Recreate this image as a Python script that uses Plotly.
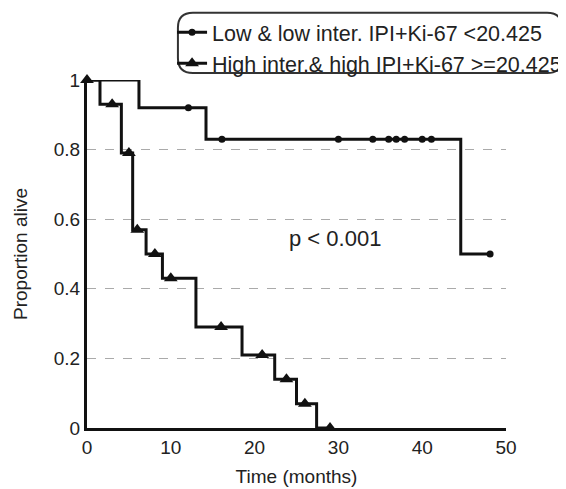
import plotly.graph_objects as go

# Low & low intermediate group: step points (time, survival) and censor marks
low_step_t = [0, 6.2, 14.2, 44.6, 48.1]
low_step_s = [1.0, 0.92, 0.83, 0.50, 0.50]
low_cens_t = [12.1, 16.1, 30.0, 34.1, 36.0, 36.9, 37.9, 40.0, 41.1, 48.1]
low_cens_s = [0.92, 0.83, 0.83, 0.83, 0.83, 0.83, 0.83, 0.83, 0.83, 0.50]

# High intermediate & high group
high_step_t = [0, 1.55, 4.1, 5.45, 7.05, 9.0, 13.0, 18.5, 22.4, 25.0, 27.4, 29.0]
high_step_s = [1.0, 0.93, 0.79, 0.57, 0.50, 0.43, 0.29, 0.21, 0.14, 0.07, 0.0, 0.0]
high_cens_t = [0.0, 3.0, 5.0, 6.0, 8.1, 10.0, 16.0, 20.9, 23.8, 26.0, 29.0]
high_cens_s = [1.0, 0.93, 0.79, 0.57, 0.50, 0.43, 0.29, 0.21, 0.14, 0.07, 0.0]

legend_names = ["Low &amp; low inter. IPI+Ki-67 &lt;20.425",
                "High inter.&amp; high IPI+Ki-67 &gt;=20.425"]
y_ticks = [0, 0.2, 0.4, 0.6, 0.8, 1.0]
y_tick_labels = ["0", "0.2", "0.4", "0.6", "0.8", "1"]
x_ticks = [0, 10, 20, 30, 40, 50]

FONT = "Liberation Sans, Arial, sans-serif"
INK = "#111"

fig = go.Figure()
fig.add_trace(go.Scatter(x=low_step_t, y=low_step_s, mode="lines", line_shape="hv",
                         line=dict(color=INK, width=3), showlegend=False, cliponaxis=False))
fig.add_trace(go.Scatter(x=low_cens_t, y=low_cens_s, mode="markers",
                         marker=dict(symbol="circle", size=7, color=INK), showlegend=False, cliponaxis=False))
fig.add_trace(go.Scatter(x=high_step_t, y=high_step_s, mode="lines", line_shape="hv",
                         line=dict(color=INK, width=3), showlegend=False, cliponaxis=False))
fig.add_trace(go.Scatter(x=high_cens_t, y=high_cens_s, mode="markers",
                         marker=dict(symbol="triangle-up", size=12, color=INK), showlegend=False, cliponaxis=False))
# legend entries
fig.add_trace(go.Scatter(x=[None], y=[None], mode="lines+markers", name=legend_names[0],
                         line=dict(color=INK, width=3), marker=dict(symbol="circle", size=7, color=INK)))
fig.add_trace(go.Scatter(x=[None], y=[None], mode="lines+markers", name=legend_names[1],
                         line=dict(color=INK, width=3), marker=dict(symbol="triangle-up", size=12, color=INK)))

# rounded legend box (paper coords; plot area 419 x 348 px)
x0, x1, y0, y1 = 0.217, 1.134, 1.020, 1.193
rx, ry = 15 / 419, 15 / 348
path = (f"M {x0+rx},{y1} L {x1-rx},{y1} Q {x1},{y1} {x1},{y1-ry} "
        f"L {x1},{y0+ry} Q {x1},{y0} {x1-rx},{y0} L {x0+rx},{y0} "
        f"Q {x0},{y0} {x0},{y0+ry} L {x0},{y1-ry} Q {x0},{y1} {x0+rx},{y1} Z")
fig.add_shape(type="path", path=path, xref="paper", yref="paper",
              line=dict(color="#333", width=2), fillcolor="rgba(0,0,0,0)")

fig.add_annotation(x=29.6, y=0.545, text="p &lt; 0.001", showarrow=False,
                   font=dict(family=FONT, size=22, color="#222"))

fig.update_layout(
    width=566, height=489,
    margin=dict(l=79, r=68, t=72, b=69, autoexpand=False),
    paper_bgcolor="white", plot_bgcolor="white",
    font=dict(family=FONT, size=19, color="#222"),
    legend=dict(x=0.203, y=1.196, xanchor="left", yanchor="top",
                bgcolor="rgba(0,0,0,0)", borderwidth=0,
                font=dict(family=FONT, size=21.5, color="#222"),
                itemwidth=30, tracegroupgap=0),
    showlegend=True,
)
fig.update_xaxes(range=[0, 50], tickvals=x_ticks, showgrid=False, zeroline=False,
                 showline=True, linecolor=INK, linewidth=3, ticks="",
                 title=dict(text="Time (months)", font=dict(size=19), standoff=13),
                 tickfont=dict(size=19))
fig.update_yaxes(range=[0, 1], tickvals=y_ticks, ticktext=y_tick_labels, showgrid=True,
                 gridcolor="#aaa", griddash="dash", gridwidth=1, zeroline=False,
                 showline=True, linecolor=INK, linewidth=3, ticks="",
                 title=dict(text="Proportion alive", font=dict(size=19), standoff=22),
                 tickfont=dict(size=19))

fig.write_html("out.html")
